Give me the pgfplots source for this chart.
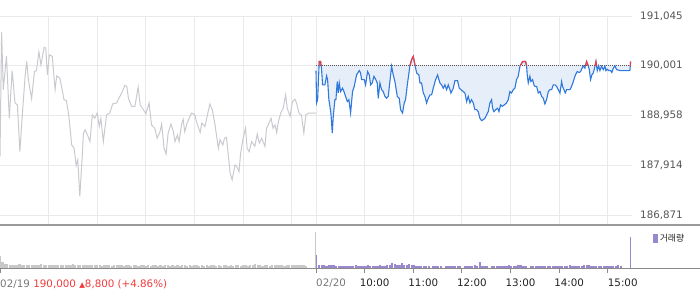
\documentclass[border=0pt]{standalone}
\usepackage{fontspec}
\setmainfont{DejaVu Sans}
\newfontfamily\kr{Noto Sans CJK KR}
\usepackage{pgfplots}
\pgfplotsset{compat=1.18}
\usepackage{pgfplotstable}
\definecolor{gridc}{HTML}{E9E9E9}
\definecolor{labc}{HTML}{555555}
\definecolor{graylinec}{HTML}{C8CACF}
\definecolor{bluec}{HTML}{2F78DC}
\definecolor{redc}{HTML}{F23A3A}
\definecolor{fillc}{HTML}{E6EEFA}
\definecolor{dotc}{HTML}{555555}
\definecolor{volgray}{HTML}{C8C8C8}
\definecolor{volpurple}{HTML}{9A88CF}
\definecolor{sepc}{HTML}{9A9A9A}
\definecolor{botc}{HTML}{8A8A8A}
\definecolor{tickdark}{HTML}{222222}
\definecolor{tickgray}{HTML}{777777}
\newcommand\tickfont{\fontsize{10.3}{12}\selectfont}

\pgfplotstableread[row sep=\\]{
t p\\
0 188100\\ 2 190710\\ 4 189500\\ 8 190200\\ 11.5 188900\\ 15 189900\\ 18.5 189220\\ 21.5 189180\\
24.5 188200\\ 28 189080\\ 31 189780\\ 33 190090\\ 35 189710\\ 39 189310\\ 42.5 189880\\ 45 189900\\
48 190290\\ 50.5 190020\\ 54.5 190390\\ 56.5 190370\\ 58.5 189810\\ 61 190230\\ 64.5 190200\\ 68 189500\\
70 189790\\ 74 189740\\ 79 189290\\ 82 189270\\ 85 188940\\ 88.5 188340\\ 91.5 188270\\ 94 187910\\
96 188030\\ 98.5 187260\\ 101 187960\\ 103 188590\\ 105 188660\\ 108 188550\\ 111 188410\\ 114 188970\\
117 188900\\ 120 189010\\ 122.5 188730\\ 124.5 188900\\ 127.5 188410\\ 131.5 188970\\ 135.5 189010\\ 139 189200\\
144 189220\\ 146 189300\\ 149 189390\\ 151.5 189480\\ 154 189590\\ 156.5 189570\\ 158.5 189320\\ 162.5 189150\\
166.5 189150\\ 170.5 189550\\ 173 189180\\ 177 189080\\ 180 188990\\ 184 189220\\ 187 188760\\ 191 188690\\
194 188480\\ 197.5 188620\\ 199.5 188780\\ 202.5 188270\\ 205 188150\\ 207.5 188590\\ 211 188780\\ 214 188620\\
216 188410\\ 219 188550\\ 221 188410\\ 224 188760\\ 226 188880\\ 228 188620\\ 231 188800\\ 234.5 188940\\
236.5 189010\\ 240.5 188970\\ 242.5 188830\\ 247 188600\\ 249 188800\\ 253 188730\\ 256 188970\\ 259 189200\\
262 189080\\ 265 188800\\ 269.5 188270\\ 271.5 188450\\ 275 188340\\ 277 188480\\ 279.5 188500\\ 284 187750\\
286.5 187610\\ 290 187920\\ 292 187890\\ 295 187780\\ 297 188170\\ 300 188480\\ 303 188690\\ 305 188270\\
307.5 188200\\ 310.5 188410\\ 314.5 188310\\ 317.5 188570\\ 320 188380\\ 323 188480\\ 327 188310\\ 329 188690\\
332 188800\\ 334.5 188900\\ 337 188690\\ 339.5 188760\\ 341.5 188600\\ 343.5 188820\\ 346.5 189010\\ 349.5 189110\\
352.5 189390\\ 354.5 189110\\ 358 188940\\ 361 189250\\ 364 189300\\ 366 189220\\ 369 189010\\ 372 188970\\
375 188590\\ 377.5 188970\\ 380.5 189010\\ 390 189010\\
}\dayone

\pgfplotstableread[row sep=\\]{
t p\\
390 189900\\ 390.7 189220\\ 392 189290\\ 394 190090\\ 395.7 190090\\ 396.9 189920\\ 398.1 189600\\ 401 189600\\
403.1 189790\\ 404.3 189710\\ 405.9 189290\\ 408.4 189010\\ 410.1 188590\\ 411.3 188940\\ 413.3 189290\\ 414.6 189290\\
416.2 189670\\ 417.5 189430\\ 418.7 189640\\ 420.3 189460\\ 422.8 189530\\ 424.5 189460\\ 426.5 189360\\ 428.6 189250\\
430.6 189290\\ 432.7 189010\\ 435.1 189460\\ 437.2 189570\\ 440.1 189810\\ 443.4 189900\\ 445 189850\\ 446.3 189710\\
449.5 189710\\ 451.2 189600\\ 453.7 189880\\ 455.7 189810\\ 457.4 189600\\ 459.4 189640\\ 461.5 189780\\ 463.5 189720\\
465.6 189640\\ 466.8 189320\\ 468.9 189640\\ 470.9 189500\\ 473 189460\\ 475 189360\\ 477.1 189320\\ 479.2 189360\\
481.2 189670\\ 483.3 189990\\ 485.3 189810\\ 487.4 189670\\ 490.3 189360\\ 492.7 189320\\ 494.4 189080\\ 496.8 189010\\
498.9 189220\\ 500.5 189290\\ 503 189640\\ 505.9 190000\\ 508 190130\\ 510 190200\\ 512.1 190020\\ 514.2 189850\\
517 189810\\ 518.3 189640\\ 520.3 189640\\ 522.4 189430\\ 524.4 189360\\ 526.5 189220\\ 528.6 189320\\ 530.6 189390\\
532.7 189390\\ 534.7 189530\\ 537.6 189710\\ 540.1 189810\\ 541.7 189710\\ 543 189640\\ 545 189600\\ 547.1 189530\\
549.1 189600\\ 551.2 189500\\ 553.2 189600\\ 555.3 189500\\ 556.5 189430\\ 559.4 189530\\ 561.5 189690\\ 564.7 189690\\
566.8 189530\\ 568.9 189500\\ 571.7 189460\\ 573.8 189430\\ 575.9 189250\\ 577.9 189360\\ 580 189220\\ 582 189290\\
584.1 189220\\ 586.1 189080\\ 588.2 189080\\ 590.2 189040\\ 592.3 188900\\ 594.4 188850\\ 596.4 188870\\ 598.5 188900\\
600.5 188970\\ 602.6 189040\\ 604.6 189220\\ 606.7 189290\\ 607.9 189110\\ 609.6 189040\\ 611.6 189080\\ 614.1 189110\\
615.8 189040\\ 617.8 189180\\ 619.9 189150\\ 622.3 189180\\ 625.2 189220\\ 627.3 189290\\ 629.3 189460\\ 631.4 189430\\
633.4 189500\\ 635.5 189530\\ 637.5 189710\\ 639.6 189780\\ 641.7 189990\\ 645 190090\\ 648.7 190090\\ 649.9 190000\\
650.7 189810\\ 652 189640\\ 654 189780\\ 655.3 189670\\ 657.3 189710\\ 659 189600\\ 660.2 189570\\ 662.3 189570\\
664.3 189430\\ 666.4 189460\\ 668.4 189360\\ 670.5 189320\\ 672.5 189200\\ 674.6 189290\\ 676.7 189460\\ 678.7 189500\\
680.8 189500\\ 682.8 189600\\ 684.9 189600\\ 686.9 189570\\ 689 189500\\ 691.1 189430\\ 693.1 189670\\ 694.3 189570\\
696 189500\\ 697.6 189430\\ 699.3 189500\\ 701.3 189500\\ 703.4 189500\\ 705.5 189570\\ 707.5 189670\\ 709.6 189780\\
710.8 189830\\ 712.4 189880\\ 714.9 189860\\ 716.6 189880\\ 717.8 189930\\ 719.8 190000\\ 721.9 189950\\ 724 190090\\
726 190000\\ 727.3 189920\\ 728.9 189710\\ 730.5 189810\\ 732.2 189850\\ 733.8 189950\\ 735.5 190090\\ 737.1 189900\\
738.8 190000\\ 740.4 189900\\ 742.5 189990\\ 744.5 189920\\ 746.6 189990\\ 747.8 189900\\ 749.5 189930\\ 751.1 189900\\
753.6 189900\\ 755.2 189860\\ 756.9 189950\\ 758.9 190000\\ 761 189920\\ 765.1 189900\\ 777.4 189900\\ 778.3 190090\\
}\daytwo

\pgfplotstableread[row sep=\\]{
t v\\
0 28\\ 3 14\\ 6 10\\ 9 9\\ 12 8\\ 15 7\\ 18 8\\ 21 7\\ 24 9\\ 27 7\\ 30 6\\ 33 7\\ 36 8\\ 39 6\\ 42 7\\ 45 6\\
48 7\\ 51 10\\ 54 6\\ 57 7\\ 60 6\\ 63 6\\ 66 7\\ 69 6\\ 72 8\\ 75 6\\ 78 6\\ 81 7\\ 84 6\\ 87 6\\ 90 9\\ 93 6\\
96 7\\ 99 6\\ 102 6\\ 105 7\\ 108 6\\ 111 6\\ 114 6\\ 117 7\\ 120 6\\ 123 6\\ 126 5\\ 129 6\\ 132 6\\ 135 6\\
138 5\\ 141 6\\ 144 6\\ 147 7\\ 150 6\\ 153 5\\ 156 6\\ 159 6\\ 162 5\\ 165 6\\ 168 6\\ 171 5\\ 174 6\\ 177 6\\
180 5\\ 183 6\\ 186 5\\ 189 6\\ 192 6\\ 195 5\\ 198 6\\ 201 5\\ 204 6\\ 207 6\\ 210 5\\ 213 6\\ 216 5\\ 219 6\\
222 5\\ 225 6\\ 228 6\\ 231 5\\ 234 6\\ 237 5\\ 240 6\\ 243 6\\ 246 5\\ 249 6\\ 252 5\\ 255 6\\ 258 5\\ 261 6\\
264 6\\ 267 5\\ 270 6\\ 273 5\\ 276 6\\ 279 6\\ 282 5\\ 285 6\\ 288 5\\ 291 6\\ 294 6\\ 297 5\\ 300 6\\ 303 6\\
306 5\\ 309 6\\ 312 6\\ 315 9\\ 318 6\\ 321 6\\ 324 5\\ 327 6\\ 330 6\\ 333 5\\ 336 6\\ 339 6\\ 342 7\\ 345 6\\
348 6\\ 351 5\\ 354 7\\ 357 6\\ 360 6\\ 363 7\\ 366 6\\ 369 7\\ 372 6\\ 375 6\\ 378 5\\
}\volone

\pgfplotstableread[row sep=\\]{
t v\\
394 6\\ 397 6\\ 400 6\\ 403 5\\ 406 6\\ 409 6\\ 412 6\\ 415 5\\ 418 4\\ 421 5\\ 424 4\\ 427 5\\ 430 5\\ 433 4\\
436 5\\ 439 6\\ 442 5\\ 445 4\\ 448 5\\ 451 4\\ 454 6\\ 457 5\\ 460 4\\ 463 5\\ 466 5\\ 469 6\\ 472 5\\ 475 5\\
478 6\\ 481 8\\ 484 11\\ 487 9\\ 490 7\\ 493 8\\ 496 12\\ 499 6\\ 502 6\\ 505 10\\ 508 8\\ 511 6\\ 514 5\\ 517 4\\
520 5\\ 523 4\\ 526 5\\ 529 4\\ 532 0\\ 535 5\\ 538 4\\ 541 5\\ 544 4\\ 547 0\\ 550 5\\ 553 4\\ 556 5\\ 559 5\\
562 4\\ 565 5\\ 568 4\\ 571 0\\ 574 5\\ 577 4\\ 580 5\\ 583 5\\ 586 6\\ 589 4\\ 592 15\\ 595 4\\ 598 5\\ 601 4\\
604 0\\ 607 5\\ 610 4\\ 613 5\\ 616 4\\ 619 5\\ 622 4\\ 625 5\\ 628 6\\ 631 4\\ 634 5\\ 637 5\\ 640 6\\ 643 8\\
646 5\\ 649 4\\ 652 0\\ 655 5\\ 658 4\\ 661 5\\ 664 5\\ 667 4\\ 670 5\\ 673 4\\ 676 5\\ 679 4\\ 682 5\\ 685 4\\
688 5\\ 691 5\\ 694 4\\ 697 5\\ 700 5\\ 703 7\\ 706 4\\ 709 5\\ 712 4\\ 715 5\\ 718 5\\ 721 7\\ 724 6\\ 727 7\\
730 5\\ 733 4\\ 736 5\\ 739 4\\ 742 5\\ 745 4\\ 748 5\\ 751 4\\ 754 5\\ 757 4\\ 760 5\\ 763 6\\ 766 5\\
}\voltwo

\begin{document}
\begin{tikzpicture}
\useasboundingbox (0,0) rectangle (700pt,289pt);
% price axis
\begin{axis}[
  at={(0pt,64pt)}, anchor=south west, scale only axis,
  width=632pt, height=209pt,
  xmin=0, xmax=780, ymin=186661, ymax=191045,
  axis line style={draw=none}, major tick length=0pt,
  scaled y ticks=false, scaled x ticks=false,
  xtick={60,120,180,240,300,360,390,450,510,570,630,690,750},
  xticklabels={},
  ytick={186871,187914,188958,190001,191045},
  yticklabels={{186,871},{187,914},{188,958},{190,001},{191,045}},
  yticklabel pos=right,
  yticklabel style={anchor=west, inner sep=0pt, xshift=8pt, font=\tickfont, text=labc},
  /pgf/number format/assume math mode=true,
  grid=major, grid style={gridc, line width=0.9pt},
]
\addplot[graylinec, line width=1pt] table[x=t,y=p]{\dayone};
\addplot[fill=fillc, draw=none] table[x=t,y=p]{\daytwo}
  -- (axis cs:778.3,190000) -- (axis cs:390,190000) -- cycle;
\addplot[dotc, line width=0.8pt, dash pattern=on 1pt off 1pt] coordinates {(390,190000) (779,190000)};
\addplot[bluec, line width=1.1pt] table[x=t,y=p]{\daytwo};
\addplot[redc, line width=1.1pt] coordinates {(393.8,190000) (394,190090) (395.7,190090) (396.3,190000)};
\addplot[redc, line width=1.1pt] coordinates {(505.9,190000) (508,190130) (510,190200) (512.1,190020) (512.35,190000)};
\addplot[redc, line width=1.1pt] coordinates {(642,190000) (645,190090) (648.7,190090) (649.9,190000)};
\addplot[redc, line width=1.1pt] coordinates {(722.65,190000) (724,190090) (726,190000)};
\addplot[redc, line width=1.1pt] coordinates {(734.4,190000) (735.5,190090) (736.26,190000)};
\addplot[redc, line width=1.1pt] coordinates {(777.87,190000) (778.3,190090)};
\end{axis}
% volume axis
\begin{axis}[
  at={(0pt,21pt)}, anchor=south west, scale only axis,
  width=700pt, height=43pt,
  xmin=0, xmax=863.9, ymin=0, ymax=100,
  axis line style={draw=none}, ytick=\empty,
  scaled x ticks=false,
  xtick={0,390,450,510,570,630,690,750},
  xticklabels={
    {\color{tickgray}02/19\kern3.5pt\color{redc}190,000 \scalebox{0.72}{▲}8,800 (+4.86\%)},
    {\color{tickgray}02/20},
    {\kern-5pt 10:00},{\kern-5pt 11:00},{\kern-5pt 12:00},{\kern-5pt 13:00},{\kern-5pt 14:00},{15:00}},
  xtick pos=left, tick align=outside, major tick length=5pt,
  tick style={draw=botc, line width=0.8pt},
  xticklabel style={anchor=north west, inner sep=0pt, font=\tickfont, text=tickdark, yshift=-6pt},
  /pgf/number format/assume math mode=true,
  clip=false,
  legend style={at={(0.9329,0.686)}, anchor=west, draw=none, fill=none, inner sep=0pt,
    font=\kr\fontsize{8.8}{10}\selectfont, text=tickdark},
  legend image code/.code={\fill[volpurple] (0pt,-3.5pt) rectangle (2.4pt,3.5pt);},
]
\addplot[ycomb, volgray, line width=2.2pt, forget plot] table[x=t,y=v]{\volone};
\addplot[ycomb, volpurple, line width=2.2pt] table[x=t,y=v]{\voltwo};
\addlegendentry{거래량}
\addplot[ycomb, volgray, line width=1pt, forget plot] coordinates {(388.8,84)};
\addplot[ycomb, volpurple, line width=1.2pt, forget plot] coordinates {(390.8,31) (778.3,71)};
\draw[sepc, line width=1.4pt] (rel axis cs:0,1) -- (rel axis cs:1,1);
\draw[botc, line width=1pt] (rel axis cs:0,0) -- (rel axis cs:1,0);
\end{axis}
\end{tikzpicture}
\end{document}
